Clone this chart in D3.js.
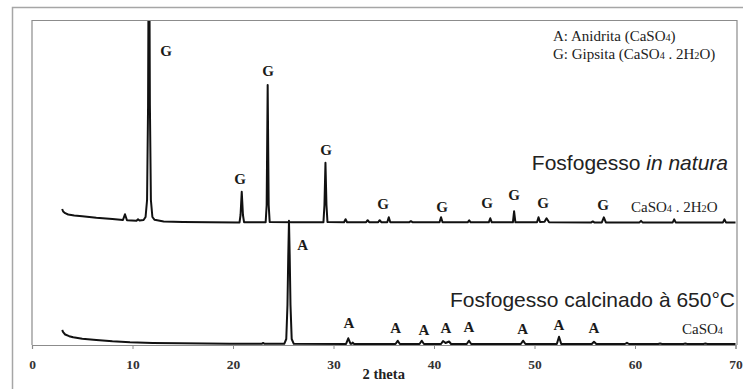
<!DOCTYPE html>
<html>
<head>
<meta charset="utf-8">
<script src="https://cdn.jsdelivr.net/npm/d3@7/dist/d3.min.js"></script>
<style>
  html, body { margin: 0; padding: 0; background: #fff; }
  svg { display: block; }
  .serif { font-family: "Liberation Serif", "Times New Roman", serif; }
  .sans { font-family: "Liberation Sans", Arial, sans-serif; }
  .pre { white-space: pre; }
</style>
</head>
<body>
<svg id="chart" width="743" height="389"></svg>
<script>
// X-ray diffraction patterns: [2θ (degrees), intensity (stacked, arbitrary units)]
const gipsitaPattern = [
  [3.0,1360],[3.1,1335],[3.3,1318],[3.6,1305],[4.2,1296],[5.0,1288],[6.4,1273],[8.0,1260],
  [9.05,1250],[9.25,1307],[9.45,1248],[10.4,1243],[10.55,1258],[10.7,1245],[11.1,1250],
  [11.3,1280],[11.45,1450],[11.55,2400],[11.64,4800],[11.73,2400],[11.83,1450],[11.98,1280],
  [12.2,1252],[13.1,1236],[15.0,1231],[17.7,1228],[20.65,1226],[20.75,1300],[20.87,1533],
  [20.99,1300],[21.1,1228],[23.25,1228],[23.35,1400],[23.45,2600],[23.55,1400],[23.65,1230],
  [26.0,1227],[29.0,1228],[29.1,1400],[29.2,1823],[29.3,1400],[29.4,1230],
  [31.05,1228],[31.2,1258],[31.35,1228],[33.25,1228],[33.4,1248],[33.55,1228],
  [34.45,1228],[34.6,1248],[34.75,1228],[35.35,1228],[35.5,1278],[35.65,1228],
  [37.55,1228],[37.7,1238],[37.85,1228],[40.55,1227],[40.7,1277],[40.85,1227],
  [43.35,1227],[43.5,1247],[43.65,1227],[45.45,1227],[45.6,1267],[45.75,1227],
  [47.85,1227],[47.97,1337],[48.1,1227],[50.25,1227],[50.4,1277],[50.55,1230],
  [51.0,1232],[51.2,1267],[51.45,1228],[55.65,1226],[55.8,1236],[55.95,1226],
  [56.7,1226],[56.9,1276],[57.1,1226],[60.45,1226],[60.6,1241],[60.75,1226],
  [63.75,1226],[63.9,1256],[64.05,1226],[68.75,1226],[68.9,1256],[69.05,1226],[70.0,1226]
];

const anidritaPattern = [
  [3.0,150],[3.1,128],[3.3,105],[3.7,88],[4.1,77],[5.0,62],[6.4,50],[8.0,37],[9.75,27],
  [12.0,21],[14.7,17],[19.7,13],[22.85,12],[23.0,20],[23.15,12],[25.1,12],[25.3,60],
  [25.42,400],[25.5,900],[25.57,1243],[25.64,900],[25.72,400],[25.84,60],[26.05,12],
  [31.25,11],[31.47,67],[31.7,12],[31.8,12],[31.9,25],[32.05,11],
  [36.17,10],[36.39,43],[36.6,10],[38.56,10],[38.78,43],[39.0,10],
  [40.7,10],[40.9,40],[41.15,20],[41.5,35],[41.7,10],[43.26,10],[43.48,43],[43.7,10],
  [48.64,10],[48.86,43],[49.1,10],[52.22,10],[52.44,83],[52.66,10],
  [55.7,10],[55.92,33],[56.15,10],[59.0,10],[59.2,22],[59.4,10],
  [62.3,10],[62.5,15],[62.7,10],[64.8,10],[65.0,14],[65.2,10],[66.8,10],[67.0,14],[67.2,10],[70.0,10]
];

// Phase annotations: [phase letter, 2θ of label, intensity level of label]
const gipsitaLabels = [
  ["G",13.33,2890],["G",20.7,1610],["G",23.48,2690],["G",29.25,1900],["G",34.93,1360],
  ["G",40.8,1330],["G",45.27,1370],["G",47.96,1450],["G",50.85,1370],["G",56.82,1350]
];
const anidritaLabels = [
  ["A",26.93,950],["A",31.54,170],["A",36.19,120],["A",39.0,100],["A",41.19,120],
  ["A",43.48,135],["A",48.83,115],["A",52.44,150],["A",55.92,120]
];

const xTicks = [0,10,20,30,40,50,60,70];
const xTitle = "2 theta";

(function draw() {
  const svg = d3.select("#chart");
  const mLeft = 32, mRight = 735.5, mTop = 20, mBottom = 345;

  const x = d3.scaleLinear().domain([0,70]).range([mLeft, mRight]);
  const y = d3.scaleLinear().domain([0,3250]).range([mBottom, mTop]);

  // outer frame
  svg.append("path")
    .attr("d", `M12.5,389 V7.5 H743`)
    .attr("fill","none").attr("stroke","#a6a6a6").attr("stroke-width",1.5);

  // plot area frame
  svg.append("path")
    .attr("d", `M${mLeft},${mBottom} V${mTop + 0.5} H${mRight + 1.5} V${mBottom}`)
    .attr("fill","none").attr("stroke","#8c8c8c").attr("stroke-width",1.2);

  svg.append("clipPath").attr("id","plotClip")
    .append("rect").attr("x",mLeft).attr("y",mTop + 1).attr("width",mRight - mLeft + 2).attr("height",mBottom - mTop);

  const line = d3.line().x(d => x(d[0])).y(d => y(d[1]));

  const traces = svg.append("g").attr("clip-path","url(#plotClip)");
  [gipsitaPattern, anidritaPattern].forEach(p => {
    traces.append("path")
      .datum(p)
      .attr("d", line)
      .attr("fill","none")
      .attr("stroke","#111")
      .attr("stroke-width",2)
      .attr("stroke-linejoin","round");
  });

  // x axis
  const axis = d3.axisBottom(x).tickValues(xTicks).tickSize(4).tickPadding(10).tickFormat(d3.format("d"));
  const gx = svg.append("g").attr("transform",`translate(0,${mBottom})`).call(axis);
  gx.select(".domain").attr("stroke","#8c8c8c").attr("stroke-width",1.2);
  gx.selectAll(".tick line").attr("stroke","#8c8c8c");
  gx.selectAll(".tick text")
    .attr("class","serif")
    .attr("font-size",13.5).attr("font-weight","bold").attr("fill","#333");

  svg.append("text").attr("class","serif")
    .attr("x",(mLeft+mRight)/2).attr("y",379)
    .attr("text-anchor","middle").attr("font-size",14.5).attr("font-weight","bold").attr("fill","#222")
    .text(xTitle);

  // phase letters
  svg.append("g").selectAll("text")
    .data(gipsitaLabels.concat(anidritaLabels))
    .join("text")
    .attr("class","serif")
    .attr("x", d => x(d[1])).attr("y", d => y(d[2]))
    .attr("text-anchor","middle")
    .attr("font-size",15).attr("font-weight","bold").attr("fill","#1a1a1a")
    .text(d => d[0]);

  // chemical formula helper: flagged parts are drawn as small subscripts
  function formula(sel, parts) {
    parts.forEach(([t, sub]) => {
      const ts = sel.append("tspan").text(t);
      if (sub) ts.attr("font-size","0.68em");
    });
  }

  const legend = svg.append("g").attr("class","serif pre").attr("fill","#222").attr("font-size",15);
  formula(legend.append("text").attr("x",553).attr("y",41),
    [["A: Anidrita  (CaSO"],["4",1],[")"]]);
  formula(legend.append("text").attr("x",553).attr("y",59),
    [["G: Gipsita  (CaSO"],["4",1],[" . 2H"],["2",1],["O)"]]);

  formula(svg.append("text").attr("class","serif pre").attr("fill","#222").attr("font-size",15)
    .attr("x",631).attr("y",212), [["CaSO"],["4",1],[" . 2H"],["2",1],["O"]]);
  formula(svg.append("text").attr("class","serif").attr("fill","#222").attr("font-size",15)
    .attr("x",682).attr("y",333.5), [["CaSO"],["4",1]]);

  // sample names
  const t1 = svg.append("text").attr("class","sans").attr("fill","#222").attr("font-size",21)
    .attr("x",728).attr("y",170).attr("text-anchor","end");
  t1.append("tspan").text("Fosfogesso ");
  t1.append("tspan").attr("font-style","italic").text("in natura");

  svg.append("text").attr("class","sans").attr("fill","#222").attr("font-size",21)
    .attr("x",735).attr("y",306.5).attr("text-anchor","end")
    .text("Fosfogesso calcinado à 650°C");
})();
</script>
</body>
</html>
